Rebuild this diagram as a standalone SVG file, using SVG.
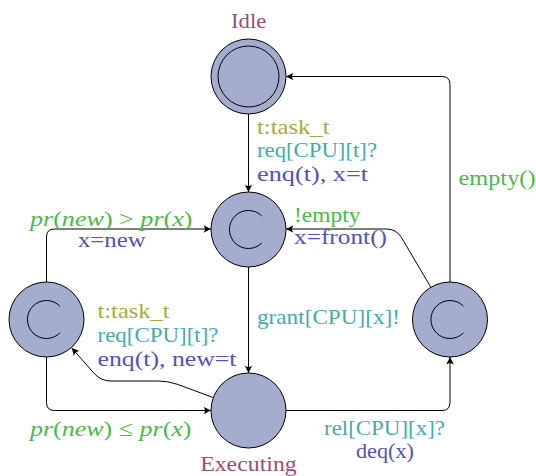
<svg xmlns="http://www.w3.org/2000/svg" width="536" height="476" viewBox="0 0 536 476">
  <style>
    .loc { fill: #a4adcd; stroke: #000; stroke-width: 1; }
    .ring { fill: none; stroke: #000; stroke-width: 1; }
    .committed { fill: none; stroke: #000; stroke-width: 1; }
    .edge { fill: none; stroke: #000; stroke-width: 1; }
    text { font-family: "Liberation Serif", "Times New Roman", serif; font-size: 22px; }
    .name { fill: #9c4c7c; }
    .select { fill: #a8a844; }
    .sync { fill: #46abab; }
    .update { fill: #5252ba; }
    .guard { fill: #4cb84c; }
    .it { font-style: italic; }
  </style>
  <defs>
    <marker id="arrow" viewBox="-8 -5 9 10" refX="0" refY="0" markerWidth="9" markerHeight="10" markerUnits="userSpaceOnUse" orient="auto">
      <path d="M0,0 L-7.5,-3.8 Q-4.5,0 -7.5,3.8 Z" fill="#000"/>
    </marker>
  </defs>

  <!-- connectors -->
  <g id="edges">
    <path class="edge" d="M248.5,114 V192" marker-end="url(#arrow)"/>
    <path class="edge" d="M248.5,267 V373" marker-end="url(#arrow)"/>
    <path class="edge" d="M46.5,282 V237 Q46.5,229 54.5,229 H211" marker-end="url(#arrow)"/>
    <path class="edge" d="M46.5,357 V402.5 Q46.5,410.5 54.5,410.5 H211" marker-end="url(#arrow)"/>
    <path class="edge" d="M286,410.5 H442 Q450,410.5 450,402.5 V357" marker-end="url(#arrow)"/>
    <path class="edge" d="M450,282 V84.5 Q450,76.5 442,76.5 H286" marker-end="url(#arrow)"/>
    <path class="edge" d="M430.6,286.8 L401.5,237.6 Q396.3,229 386.3,229 H286" marker-end="url(#arrow)"/>
    <path class="edge" d="M212.8,397.4 L177.4,384.3 Q168,381 158,381 H111 Q101,381 94.3,373.6 L71.8,348" marker-end="url(#arrow)"/>
  </g>

  <!-- transition labels -->
  <g id="labels">
    <text class="select" x="257" y="133.5" textLength="72.5" lengthAdjust="spacingAndGlyphs">t:task_t</text>
    <text class="sync" x="257" y="157" textLength="120" lengthAdjust="spacingAndGlyphs">req[CPU][t]?</text>
    <text class="update" x="257" y="180.5" textLength="111" lengthAdjust="spacingAndGlyphs">enq(t), x=t</text>

    <text class="guard" x="30" y="226" textLength="162.5" lengthAdjust="spacingAndGlyphs"><tspan class="it">pr</tspan>(<tspan class="it">new</tspan>) &gt; <tspan class="it">pr</tspan>(<tspan class="it">x</tspan>)</text>
    <text class="update" x="78" y="247" textLength="67.5" lengthAdjust="spacingAndGlyphs">x=new</text>

    <text class="guard" x="294" y="221.5" textLength="66.5" lengthAdjust="spacingAndGlyphs">!empty</text>
    <text class="update" x="294" y="244" textLength="93" lengthAdjust="spacingAndGlyphs">x=front()</text>

    <text class="guard" x="458.5" y="185" textLength="77" lengthAdjust="spacingAndGlyphs">empty()</text>

    <text class="sync" x="257" y="323.5" textLength="143" lengthAdjust="spacingAndGlyphs">grant[CPU][x]!</text>

    <text class="select" x="97.5" y="318" textLength="72" lengthAdjust="spacingAndGlyphs">t:task_t</text>
    <text class="sync" x="97.5" y="342" textLength="121" lengthAdjust="spacingAndGlyphs">req[CPU][t]?</text>
    <text class="update" x="97.5" y="366" textLength="139" lengthAdjust="spacingAndGlyphs">enq(t), new=t</text>

    <text class="guard" x="30" y="436" textLength="161.5" lengthAdjust="spacingAndGlyphs"><tspan class="it">pr</tspan>(<tspan class="it">new</tspan>) ≤ <tspan class="it">pr</tspan>(<tspan class="it">x</tspan>)</text>

    <text class="sync" x="324" y="435" textLength="121" lengthAdjust="spacingAndGlyphs">rel[CPU][x]?</text>
    <text class="update" x="356" y="458" textLength="58" lengthAdjust="spacingAndGlyphs">deq(x)</text>
  </g>

  <!-- locations -->
  <g id="idle">
    <circle class="loc" cx="248.5" cy="76.5" r="37.5"/>
    <circle class="ring" cx="248.5" cy="76.5" r="30.5"/>
    <text class="name" x="231" y="28" textLength="35.3" lengthAdjust="spacingAndGlyphs">Idle</text>
  </g>
  <g id="dispatch">
    <circle class="loc" cx="248.5" cy="229.5" r="37.5"/>
    <path class="committed" d="M261.9,216.1 A19,19 0 1 0 261.9,242.9"/>
  </g>
  <g id="preempt">
    <circle class="loc" cx="46.5" cy="319.5" r="37.5"/>
    <path class="committed" d="M59.9,306.1 A19,19 0 1 0 59.9,332.9"/>
  </g>
  <g id="release">
    <circle class="loc" cx="450" cy="319.5" r="37.5"/>
    <path class="committed" d="M463.4,306.1 A19,19 0 1 0 463.4,332.9"/>
  </g>
  <g id="executing">
    <circle class="loc" cx="248.5" cy="410.5" r="37.5"/>
    <text class="name" x="200.2" y="471" textLength="96.5" lengthAdjust="spacingAndGlyphs">Executing</text>
  </g>
</svg>
